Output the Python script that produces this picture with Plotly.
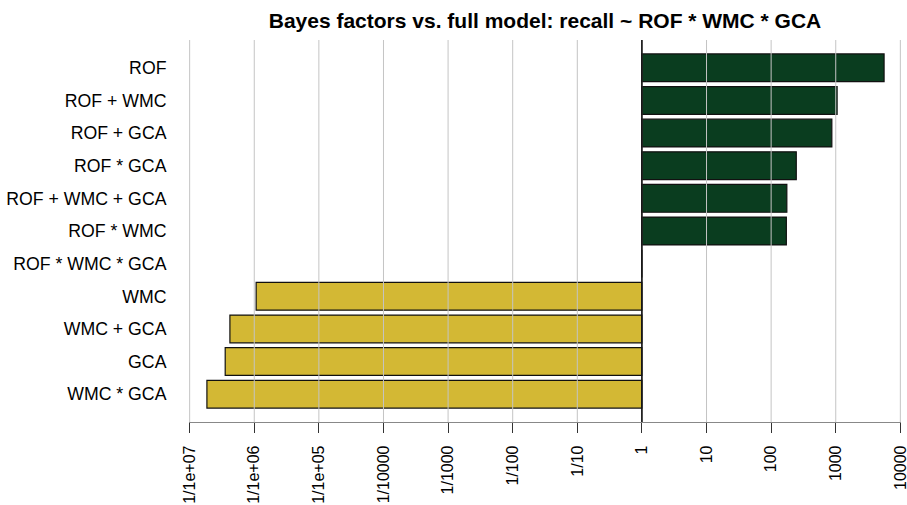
import plotly.graph_objects as go

# models, top to bottom
models = ["ROF", "ROF + WMC", "ROF + GCA", "ROF * GCA", "ROF + WMC + GCA",
          "ROF * WMC", "ROF * WMC * GCA", "WMC", "WMC + GCA", "GCA", "WMC * GCA"]
# Bayes factor of each model against the full model
bayes_factors = [5600, 1050, 870, 245, 175, 172, 1,
                 1.07e-6, 4.2e-7, 3.55e-7, 1.85e-7]

tick_vals = [1e-7, 1e-6, 1e-5, 1e-4, 1e-3, 1e-2, 1e-1, 1, 10, 100, 1000, 10000]
tick_text = ["1/1e+07", "1/1e+06", "1/1e+05", "1/10000", "1/1000", "1/100",
             "1/10", "1", "10", "100", "1000", "10000"]

green = "#0a3d1f"
yellow = "#d3b834"
colors = [green if v >= 1 else yellow for v in bayes_factors]

font = "Liberation Sans, Arial, Helvetica, sans-serif"

fig = go.Figure()
fig.add_trace(go.Bar(
    y=models,
    x=[v - 1 for v in bayes_factors],
    base=1,
    orientation="h",
    width=0.85,
    marker=dict(color=colors, line=dict(color="#111111", width=1.2)),
    showlegend=False))

# grid lines are drawn over the bars in the original
for tv in tick_vals:
    fig.add_shape(type="line", x0=tv, x1=tv, y0=0, y1=1, yref="paper",
                  layer="above", line=dict(color="#c4c4c4", width=1))
fig.add_shape(type="line", x0=1, x1=1, y0=0, y1=1, yref="paper",
              layer="above", line=dict(color="black", width=1.5))

fig.update_layout(
    width=907, height=505,
    margin=dict(l=189, r=6, t=40, b=83),
    plot_bgcolor="white",
    paper_bgcolor="white",
    font=dict(family=font, color="black"),
    title=dict(text="<b>Bayes factors vs. full model: recall ~ ROF * WMC * GCA</b>",
               x=0.5, xref="paper", xanchor="center",
               y=0.96, yref="container", yanchor="middle",
               font=dict(size=21, color="black")))

fig.update_xaxes(
    type="log", range=[-7.01, 4.01], automargin=False,
    tickvals=tick_vals, ticktext=tick_text, tickangle=-90,
    tickfont=dict(size=16), ticklabelstandoff=6, ticklabeloverflow="allow",
    showgrid=False,
    showline=True, linecolor="#888888", linewidth=1.2,
    ticks="outside", ticklen=10, tickcolor="#333333")

fig.update_yaxes(
    categoryorder="array", categoryarray=models[::-1],
    range=[-0.85, 10.85], automargin=False,
    tickfont=dict(size=17.7),
    showgrid=False, showline=False, zeroline=False,
    ticks="outside", ticklen=18, tickcolor="rgba(0,0,0,0)")

# drop the page's default body margin so the figure fills the window
fig.write_html("out.html",
               config={"displayModeBar": False},
               post_script="document.body.style.margin='0';"
                           "document.body.style.overflow='hidden';")
